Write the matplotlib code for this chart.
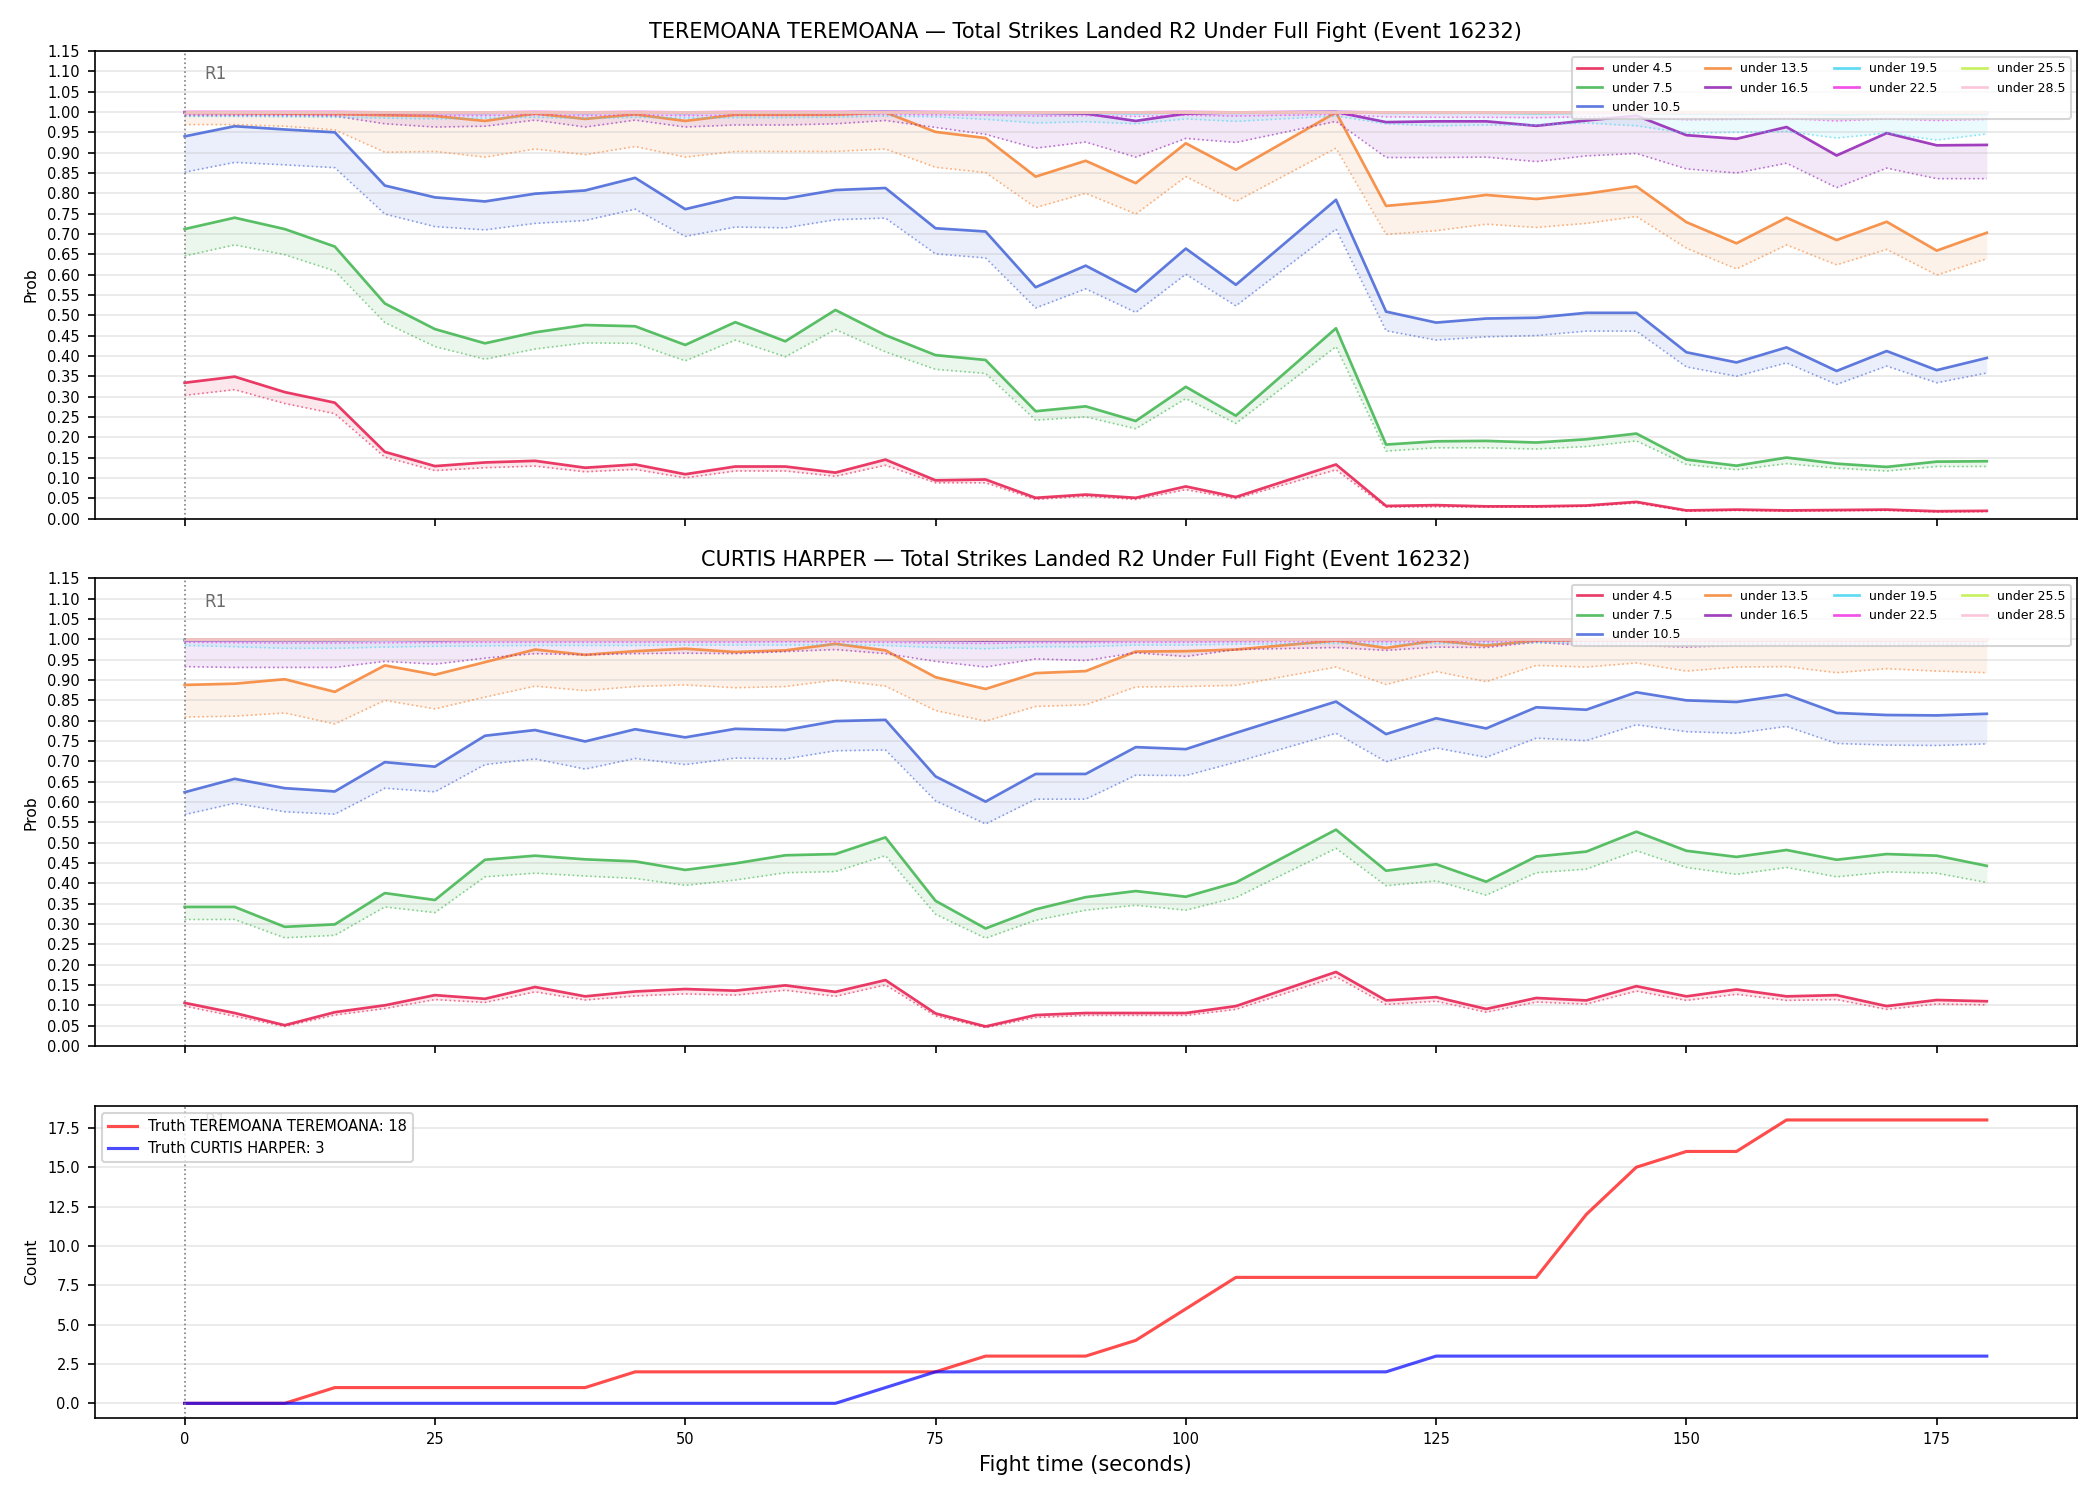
import matplotlib
matplotlib.use('Agg')
from matplotlib import pyplot as plt
from matplotlib import transforms

times = [0, 5, 10, 15, 20, 25, 30, 35, 40, 45, 50, 55, 60, 65, 70, 75, 80, 85, 90, 95, 100, 105,
         115, 120, 125, 130, 135, 140, 145, 150, 155, 160, 165, 170, 175, 180]

lines = ['under 4.5', 'under 7.5', 'under 10.5', 'under 13.5', 'under 16.5',
         'under 19.5', 'under 22.5', 'under 25.5', 'under 28.5']
colors = ['#e6194b', '#3cb44b', '#4363d8', '#f58231', '#911eb4',
          '#42d4f4', '#f032e6', '#bfef45', '#fabed4']

# TEREMOANA TEREMOANA: model prob (solid) and lower reference (dotted)
ter_45 = [0.334, 0.349, 0.311, 0.285, 0.164, 0.129, 0.138, 0.142, 0.125, 0.133, 0.109, 0.128, 0.128, 0.113, 0.145, 0.094, 0.096, 0.051, 0.059, 0.051, 0.079, 0.053,
          0.133, 0.031, 0.033, 0.030, 0.030, 0.032, 0.041, 0.020, 0.022, 0.020, 0.021, 0.022, 0.018, 0.019]
ter_45_lo = [0.303, 0.317, 0.283, 0.258, 0.151, 0.118, 0.125, 0.129, 0.115, 0.121, 0.100, 0.117, 0.117, 0.104, 0.131, 0.088, 0.088, 0.047, 0.055, 0.047, 0.071, 0.049,
             0.120, 0.028, 0.029, 0.028, 0.028, 0.030, 0.038, 0.018, 0.020, 0.018, 0.019, 0.020, 0.016, 0.017]
ter_75 = [0.712, 0.740, 0.712, 0.669, 0.529, 0.466, 0.431, 0.458, 0.476, 0.473, 0.427, 0.483, 0.436, 0.513, 0.451, 0.402, 0.390, 0.264, 0.276, 0.240, 0.324, 0.253,
          0.468, 0.182, 0.190, 0.191, 0.187, 0.195, 0.209, 0.145, 0.130, 0.150, 0.135, 0.127, 0.140, 0.141]
ter_75_lo = [0.646, 0.673, 0.649, 0.609, 0.482, 0.423, 0.392, 0.417, 0.432, 0.431, 0.388, 0.439, 0.398, 0.465, 0.410, 0.367, 0.357, 0.242, 0.250, 0.221, 0.295, 0.234,
             0.423, 0.166, 0.174, 0.174, 0.171, 0.177, 0.191, 0.133, 0.120, 0.135, 0.124, 0.117, 0.128, 0.128]
ter_105 = [0.940, 0.965, 0.957, 0.950, 0.819, 0.790, 0.780, 0.799, 0.807, 0.838, 0.761, 0.790, 0.787, 0.808, 0.813, 0.714, 0.706, 0.569, 0.622, 0.558, 0.664, 0.575,
           0.784, 0.509, 0.482, 0.492, 0.494, 0.506, 0.506, 0.409, 0.384, 0.421, 0.363, 0.412, 0.365, 0.395]
ter_105_lo = [0.852, 0.876, 0.870, 0.863, 0.749, 0.718, 0.710, 0.726, 0.733, 0.761, 0.694, 0.717, 0.715, 0.735, 0.739, 0.651, 0.641, 0.518, 0.565, 0.507, 0.601, 0.523,
              0.712, 0.462, 0.439, 0.447, 0.450, 0.461, 0.461, 0.373, 0.350, 0.383, 0.330, 0.375, 0.334, 0.358]
ter_135 = [0.998, 0.997, 0.996, 0.995, 0.992, 0.990, 0.978, 0.996, 0.983, 0.994, 0.978, 0.993, 0.993, 0.993, 0.999, 0.951, 0.936, 0.841, 0.880, 0.825, 0.923, 0.858,
           0.999, 0.769, 0.780, 0.796, 0.786, 0.799, 0.817, 0.729, 0.677, 0.740, 0.685, 0.730, 0.659, 0.703]
ter_135_lo = [0.969, 0.969, 0.965, 0.956, 0.901, 0.903, 0.889, 0.909, 0.895, 0.915, 0.889, 0.903, 0.903, 0.903, 0.909, 0.864, 0.851, 0.765, 0.800, 0.749, 0.841, 0.780,
              0.911, 0.699, 0.708, 0.724, 0.716, 0.726, 0.743, 0.665, 0.614, 0.673, 0.624, 0.662, 0.599, 0.639]
ter_165 = [0.999, 0.999, 0.999, 0.999, 0.998, 0.998, 0.998, 0.999, 0.998, 0.999, 0.998, 0.999, 0.999, 0.999, 1.000, 0.999, 0.998, 0.998, 0.996, 0.978, 0.996, 0.999,
           1.000, 0.975, 0.977, 0.977, 0.966, 0.979, 0.991, 0.943, 0.934, 0.963, 0.893, 0.948, 0.918, 0.919]
ter_165_lo = [0.991, 0.991, 0.991, 0.990, 0.971, 0.963, 0.965, 0.980, 0.963, 0.980, 0.963, 0.968, 0.968, 0.971, 0.979, 0.962, 0.945, 0.911, 0.926, 0.889, 0.935, 0.925,
              0.977, 0.888, 0.888, 0.889, 0.878, 0.892, 0.898, 0.860, 0.850, 0.874, 0.814, 0.862, 0.836, 0.836]
ter_195 = [0.999, 0.999, 0.999, 0.999, 0.999, 0.999, 0.998, 0.999, 0.998, 0.999, 0.998, 0.999, 0.999, 0.999, 1.000, 0.999, 0.999, 0.998, 0.998, 0.997, 0.999, 0.998,
           1.000, 0.998, 0.998, 0.998, 0.997, 0.998, 0.998, 0.996, 0.995, 0.997, 0.993, 0.996, 0.994, 0.995]
ter_195_lo = [0.989, 0.989, 0.988, 0.987, 0.985, 0.983, 0.985, 0.987, 0.984, 0.987, 0.985, 0.986, 0.986, 0.987, 0.990, 0.988, 0.982, 0.973, 0.976, 0.971, 0.983, 0.977,
              0.990, 0.971, 0.966, 0.968, 0.968, 0.973, 0.966, 0.948, 0.950, 0.952, 0.936, 0.948, 0.931, 0.946]
ter_225 = [1.000, 1.000, 1.000, 1.000, 0.999, 0.999, 0.999, 1.000, 0.999, 1.000, 0.999, 1.000, 1.000, 1.000, 1.000, 1.000, 0.999, 0.999, 0.999, 0.999, 1.000, 0.999,
           1.000, 0.999, 0.999, 0.999, 0.999, 0.999, 0.999, 0.999, 0.998, 0.999, 0.998, 0.999, 0.998, 0.999]
ter_225_lo = [0.994, 0.994, 0.994, 0.993, 0.992, 0.991, 0.991, 0.993, 0.991, 0.993, 0.991, 0.992, 0.992, 0.993, 0.994, 0.993, 0.992, 0.990, 0.991, 0.989, 0.992, 0.990,
              0.994, 0.988, 0.987, 0.987, 0.986, 0.988, 0.987, 0.981, 0.982, 0.984, 0.978, 0.983, 0.979, 0.982]
ter_255 = [1.000, 1.000, 1.000, 1.000, 1.000, 1.000, 1.000, 1.000, 1.000, 1.000, 1.000, 1.000, 1.000, 1.000, 1.000, 1.000, 1.000, 1.000, 1.000, 1.000, 1.000, 1.000,
           1.000, 1.000, 1.000, 1.000, 1.000, 1.000, 1.000, 1.000, 1.000, 1.000, 1.000, 1.000, 1.000, 1.000]
ter_255_lo = [0.998, 0.998, 0.998, 0.998, 0.998, 0.997, 0.997, 0.998, 0.997, 0.998, 0.997, 0.998, 0.998, 0.998, 0.998, 0.998, 0.998, 0.997, 0.997, 0.997, 0.998, 0.997,
              0.998, 0.997, 0.997, 0.997, 0.996, 0.997, 0.997, 0.995, 0.995, 0.996, 0.994, 0.995, 0.994, 0.995]
ter_285 = [1.000, 1.000, 1.000, 1.000, 1.000, 1.000, 1.000, 1.000, 1.000, 1.000, 1.000, 1.000, 1.000, 1.000, 1.000, 1.000, 1.000, 1.000, 1.000, 1.000, 1.000, 1.000,
           1.000, 1.000, 1.000, 1.000, 1.000, 1.000, 1.000, 1.000, 1.000, 1.000, 1.000, 1.000, 1.000, 1.000]
ter_285_lo = [0.999, 0.999, 0.999, 0.999, 0.999, 0.999, 0.999, 0.999, 0.999, 0.999, 0.999, 0.999, 0.999, 0.999, 0.999, 0.999, 0.999, 0.999, 0.999, 0.999, 0.999, 0.999,
              0.999, 0.999, 0.999, 0.999, 0.999, 0.999, 0.999, 0.998, 0.998, 0.999, 0.998, 0.998, 0.998, 0.998]

# CURTIS HARPER
cur_45 = [0.106, 0.081, 0.051, 0.083, 0.100, 0.125, 0.116, 0.145, 0.122, 0.134, 0.140, 0.136, 0.149, 0.133, 0.162, 0.080, 0.048, 0.076, 0.081, 0.081, 0.081, 0.098,
          0.182, 0.112, 0.120, 0.091, 0.118, 0.112, 0.147, 0.122, 0.139, 0.122, 0.125, 0.098, 0.113, 0.110]
cur_45_lo = [0.098, 0.073, 0.048, 0.076, 0.092, 0.114, 0.107, 0.133, 0.113, 0.123, 0.128, 0.125, 0.137, 0.122, 0.150, 0.074, 0.045, 0.070, 0.075, 0.075, 0.075, 0.090,
             0.170, 0.102, 0.110, 0.083, 0.108, 0.103, 0.135, 0.112, 0.127, 0.112, 0.114, 0.090, 0.103, 0.101]
cur_75 = [0.342, 0.342, 0.293, 0.299, 0.376, 0.359, 0.458, 0.468, 0.459, 0.454, 0.433, 0.449, 0.469, 0.472, 0.513, 0.357, 0.289, 0.336, 0.366, 0.381, 0.367, 0.402,
          0.532, 0.431, 0.447, 0.404, 0.466, 0.478, 0.527, 0.480, 0.465, 0.482, 0.458, 0.472, 0.468, 0.443]
cur_75_lo = [0.311, 0.311, 0.266, 0.272, 0.342, 0.328, 0.416, 0.425, 0.418, 0.412, 0.395, 0.408, 0.426, 0.429, 0.468, 0.324, 0.265, 0.309, 0.334, 0.346, 0.334, 0.365,
             0.486, 0.394, 0.406, 0.371, 0.426, 0.435, 0.480, 0.439, 0.422, 0.439, 0.416, 0.428, 0.425, 0.402]
cur_105 = [0.624, 0.657, 0.634, 0.626, 0.698, 0.687, 0.763, 0.777, 0.749, 0.779, 0.759, 0.780, 0.777, 0.799, 0.802, 0.663, 0.601, 0.669, 0.669, 0.735, 0.730, 0.770,
           0.847, 0.767, 0.806, 0.781, 0.833, 0.827, 0.870, 0.850, 0.846, 0.864, 0.819, 0.814, 0.813, 0.817]
cur_105_lo = [0.569, 0.597, 0.576, 0.570, 0.634, 0.625, 0.692, 0.706, 0.681, 0.707, 0.692, 0.708, 0.706, 0.726, 0.728, 0.603, 0.546, 0.607, 0.607, 0.666, 0.665, 0.698,
              0.769, 0.699, 0.733, 0.710, 0.757, 0.751, 0.790, 0.773, 0.769, 0.786, 0.744, 0.740, 0.739, 0.743]
cur_135 = [0.888, 0.891, 0.902, 0.871, 0.936, 0.913, 0.944, 0.975, 0.962, 0.971, 0.977, 0.969, 0.973, 0.989, 0.973, 0.907, 0.878, 0.917, 0.922, 0.970, 0.971, 0.975,
           0.997, 0.979, 0.997, 0.985, 0.997, 0.998, 0.998, 0.998, 0.998, 0.998, 0.998, 0.998, 0.998, 0.998]
cur_135_lo = [0.809, 0.811, 0.819, 0.792, 0.850, 0.829, 0.858, 0.885, 0.874, 0.884, 0.888, 0.881, 0.884, 0.900, 0.885, 0.825, 0.799, 0.835, 0.839, 0.883, 0.884, 0.887,
              0.932, 0.889, 0.921, 0.896, 0.936, 0.932, 0.942, 0.922, 0.932, 0.933, 0.918, 0.928, 0.922, 0.918]
cur_165 = [0.998, 0.998, 0.998, 0.998, 0.999, 0.998, 0.999, 0.999, 0.999, 0.999, 0.999, 0.999, 0.999, 0.999, 0.999, 0.998, 0.997, 0.998, 0.998, 0.999, 0.999, 0.999,
           1.000, 0.999, 1.000, 0.999, 1.000, 1.000, 1.000, 1.000, 1.000, 1.000, 1.000, 1.000, 1.000, 1.000]
cur_165_lo = [0.933, 0.931, 0.931, 0.931, 0.946, 0.939, 0.954, 0.965, 0.962, 0.965, 0.966, 0.965, 0.970, 0.975, 0.965, 0.946, 0.932, 0.952, 0.948, 0.967, 0.958, 0.975,
              0.980, 0.973, 0.981, 0.980, 0.993, 0.985, 0.985, 0.981, 0.985, 0.986, 0.985, 0.985, 0.986, 0.985]
cur_195 = [0.999, 0.999, 0.999, 0.999, 0.999, 0.999, 1.000, 1.000, 1.000, 1.000, 1.000, 1.000, 1.000, 1.000, 1.000, 0.999, 0.999, 0.999, 0.999, 1.000, 1.000, 1.000,
           1.000, 1.000, 1.000, 1.000, 1.000, 1.000, 1.000, 1.000, 1.000, 1.000, 1.000, 1.000, 1.000, 1.000]
cur_195_lo = [0.985, 0.982, 0.978, 0.978, 0.981, 0.983, 0.984, 0.985, 0.985, 0.985, 0.986, 0.986, 0.986, 0.987, 0.985, 0.980, 0.977, 0.982, 0.982, 0.986, 0.986, 0.988,
              0.990, 0.988, 0.990, 0.989, 0.992, 0.991, 0.991, 0.990, 0.991, 0.991, 0.990, 0.991, 0.991, 0.991]
cur_225 = [1.000, 1.000, 1.000, 1.000, 1.000, 1.000, 1.000, 1.000, 1.000, 1.000, 1.000, 1.000, 1.000, 1.000, 1.000, 1.000, 1.000, 1.000, 1.000, 1.000, 1.000, 1.000,
           1.000, 1.000, 1.000, 1.000, 1.000, 1.000, 1.000, 1.000, 1.000, 1.000, 1.000, 1.000, 1.000, 1.000]
cur_225_lo = [0.993, 0.992, 0.991, 0.991, 0.992, 0.992, 0.993, 0.993, 0.993, 0.993, 0.993, 0.993, 0.994, 0.994, 0.993, 0.991, 0.990, 0.992, 0.992, 0.993, 0.993, 0.994,
              0.995, 0.994, 0.995, 0.994, 0.996, 0.995, 0.995, 0.995, 0.995, 0.995, 0.995, 0.995, 0.995, 0.995]
cur_255 = [1.000, 1.000, 1.000, 1.000, 1.000, 1.000, 1.000, 1.000, 1.000, 1.000, 1.000, 1.000, 1.000, 1.000, 1.000, 1.000, 1.000, 1.000, 1.000, 1.000, 1.000, 1.000,
           1.000, 1.000, 1.000, 1.000, 1.000, 1.000, 1.000, 1.000, 1.000, 1.000, 1.000, 1.000, 1.000, 1.000]
cur_255_lo = [0.998, 0.998, 0.997, 0.997, 0.998, 0.998, 0.998, 0.998, 0.998, 0.998, 0.998, 0.998, 0.998, 0.998, 0.998, 0.997, 0.997, 0.998, 0.998, 0.998, 0.998, 0.998,
              0.999, 0.998, 0.999, 0.998, 0.999, 0.999, 0.999, 0.999, 0.999, 0.999, 0.999, 0.999, 0.999, 0.999]
cur_285 = [1.000, 1.000, 1.000, 1.000, 1.000, 1.000, 1.000, 1.000, 1.000, 1.000, 1.000, 1.000, 1.000, 1.000, 1.000, 1.000, 1.000, 1.000, 1.000, 1.000, 1.000, 1.000,
           1.000, 1.000, 1.000, 1.000, 1.000, 1.000, 1.000, 1.000, 1.000, 1.000, 1.000, 1.000, 1.000, 1.000]
cur_285_lo = [0.999, 0.999, 0.999, 0.999, 0.999, 0.999, 0.999, 0.999, 0.999, 0.999, 0.999, 0.999, 0.999, 0.999, 0.999, 0.999, 0.999, 0.999, 0.999, 0.999, 0.999, 0.999,
              1.000, 0.999, 1.000, 0.999, 1.000, 1.000, 1.000, 1.000, 1.000, 1.000, 1.000, 1.000, 1.000, 1.000]

# cumulative truth counts
truth_ter = [0, 0, 0, 1, 1, 1, 1, 1, 1, 2, 2, 2, 2, 2, 2, 2, 3, 3, 3, 4, 6, 8,
             8, 8, 8, 8, 8, 12, 15, 16, 16, 18, 18, 18, 18, 18]
truth_cur = [0, 0, 0, 0, 0, 0, 0, 0, 0, 0, 0, 0, 0, 0, 1, 2, 2, 2, 2, 2, 2, 2,
             2, 2, 3, 3, 3, 3, 3, 3, 3, 3, 3, 3, 3, 3]

fighters = ['TEREMOANA TEREMOANA', 'CURTIS HARPER']
probs = [[ter_45, ter_75, ter_105, ter_135, ter_165, ter_195, ter_225, ter_255, ter_285],
         [cur_45, cur_75, cur_105, cur_135, cur_165, cur_195, cur_225, cur_255, cur_285]]
probs_lo = [[ter_45_lo, ter_75_lo, ter_105_lo, ter_135_lo, ter_165_lo, ter_195_lo, ter_225_lo, ter_255_lo, ter_285_lo],
            [cur_45_lo, cur_75_lo, cur_105_lo, cur_135_lo, cur_165_lo, cur_195_lo, cur_225_lo, cur_255_lo, cur_285_lo]]

fig, axes = plt.subplots(3, 1, figsize=(14, 10), dpi=150, sharex=True,
                         gridspec_kw={'height_ratios': [3, 3, 2]})
fig.subplots_adjust(left=0.045, right=0.989, top=0.966, bottom=0.055, hspace=0.144)

for k in range(2):
    ax = axes[k]
    for i in range(len(lines)):
        ax.fill_between(times, probs_lo[k][i], probs[k][i], color=colors[i], alpha=0.1, lw=0)
        ax.plot(times, probs_lo[k][i], color=colors[i], ls=':', lw=0.8, alpha=0.6)
        ax.plot(times, probs[k][i], color=colors[i], lw=1.3, alpha=0.85, label=lines[i])
    ax.set_ylim(0, 1.15)
    ax.set_yticks([j * 0.05 for j in range(24)])
    ax.set_yticklabels(['%.2f' % (j * 0.05) for j in range(24)])
    ax.set_ylabel('Prob', fontsize=7.5)
    ax.set_title(fighters[k] + ' \u2014 Total Strikes Landed R2 Under Full Fight (Event 16232)', fontsize=10)
    ax.legend(loc='upper right', ncol=4, fontsize=6)

ax = axes[2]
ax.plot(times, truth_ter, color='red', lw=1.5, alpha=0.7, label='Truth TEREMOANA TEREMOANA: 18')
ax.plot(times, truth_cur, color='blue', lw=1.5, alpha=0.7, label='Truth CURTIS HARPER: 3')
ax.set_ylabel('Count', fontsize=7.5)
ax.set_xlabel('Fight time (seconds)', fontsize=10)
ax.legend(loc='upper left', fontsize=7)

for ax in axes:
    ax.axvline(0, color='gray', ls=':', lw=0.8)
    trans = transforms.blended_transform_factory(ax.transData, ax.transAxes)
    ax.text(2, 0.95, 'R1', transform=trans, color='dimgray', fontsize=8, va='center', zorder=0)
    ax.grid(axis='y', alpha=0.3)
    ax.tick_params(labelsize=7)

plt.savefig('out.png')
